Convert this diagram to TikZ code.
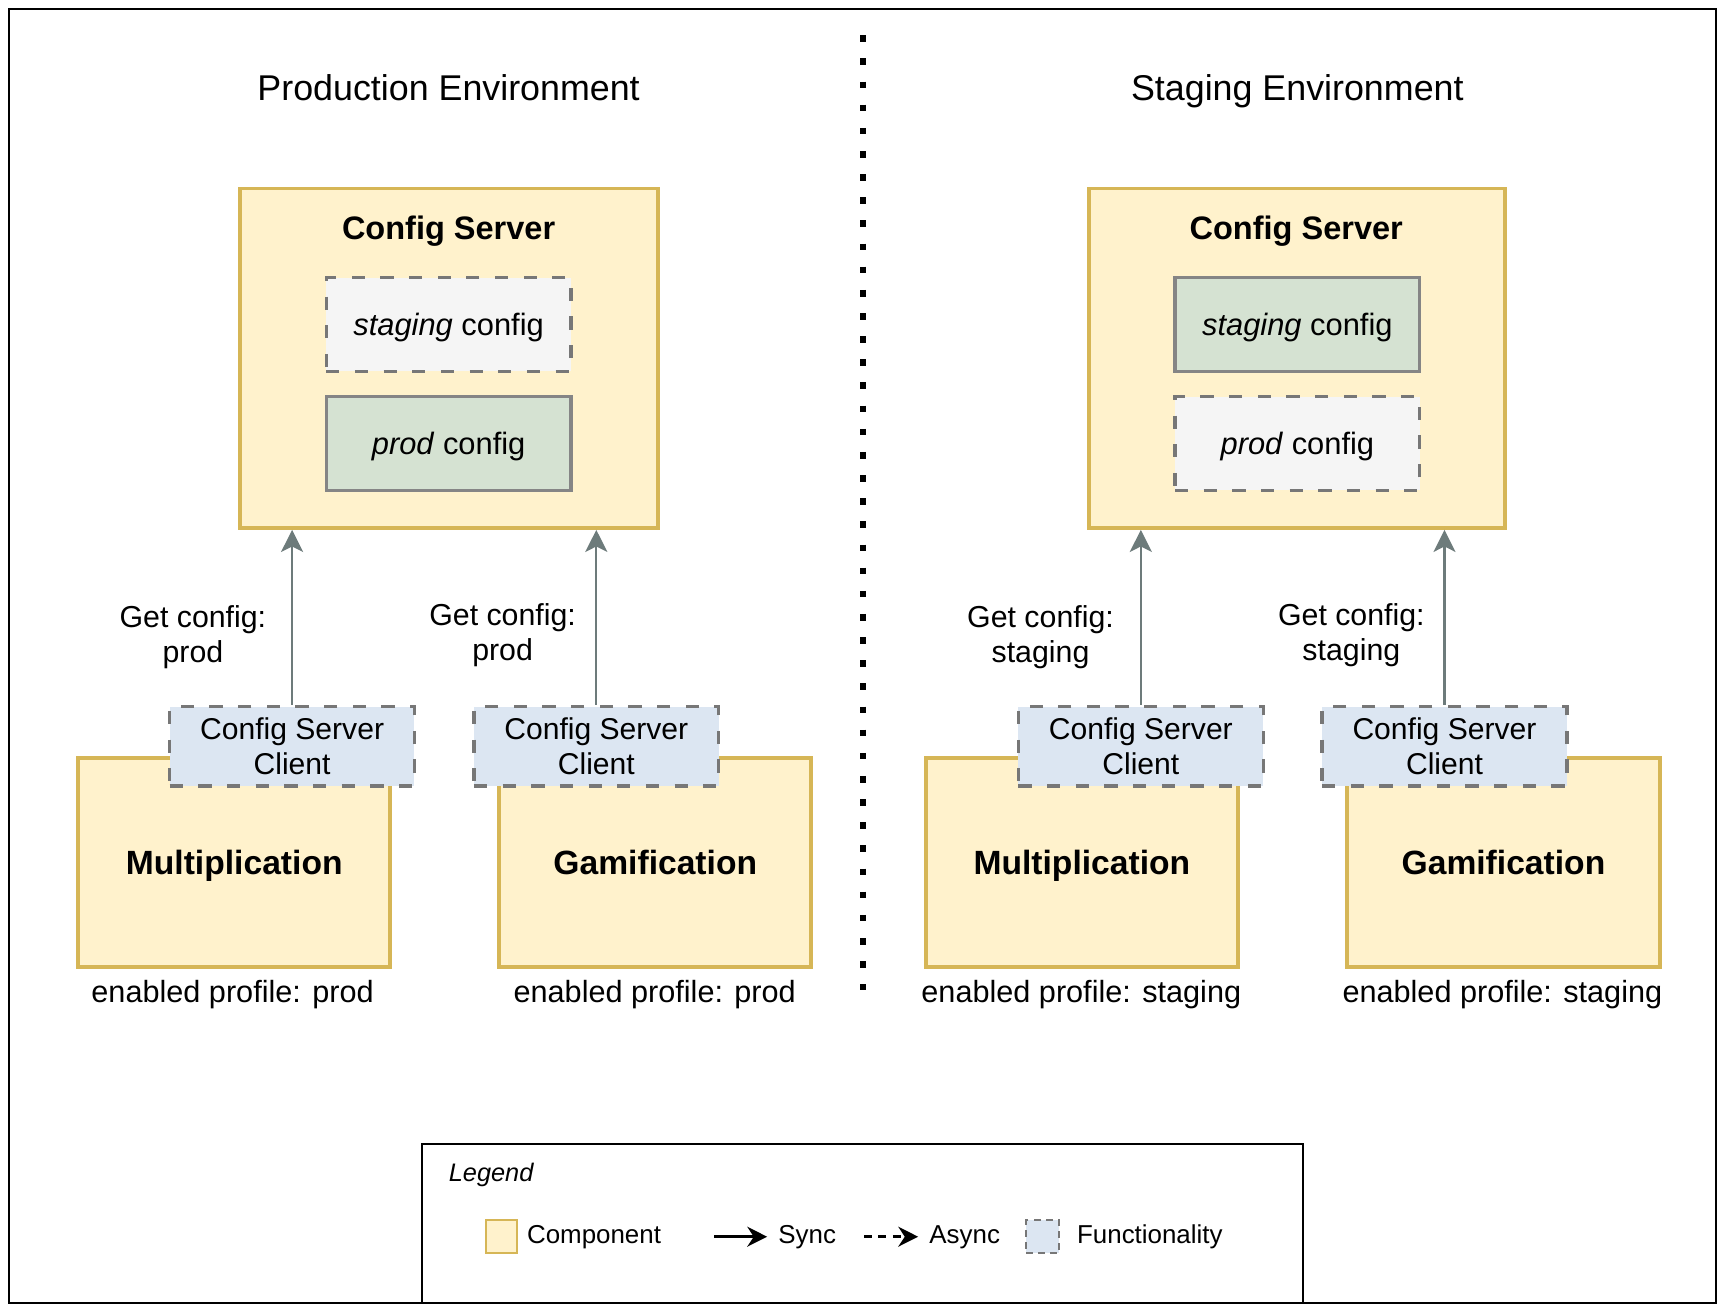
\documentclass[tikz,border=0pt]{standalone}
\usepackage{fontspec}
\setmainfont{Liberation Sans}
\usetikzlibrary{arrows.meta}
\definecolor{compfill}{HTML}{FFF2CC}
\definecolor{compborder}{HTML}{D6B656}
\definecolor{funcfill}{HTML}{DCE6F2}
\definecolor{dashgray}{HTML}{777777}
\definecolor{offfill}{HTML}{F5F5F5}
\definecolor{onfill}{HTML}{D5E2D2}
\definecolor{onborder}{HTML}{858585}
\definecolor{arrowgray}{HTML}{6D7B7B}
\tikzset{
  comp/.style={draw=compborder, fill=compfill, line width=3.5pt, inner sep=0pt, align=center},
  cfgoff/.style={draw=dashgray, fill=offfill, line width=3pt, dash pattern=on 12pt off 14pt, inner sep=0pt, minimum width=222pt, minimum height=85pt},
  cfgon/.style={draw=onborder, fill=onfill, line width=3pt, inner sep=0pt, minimum width=222pt, minimum height=85pt},
  client/.style={draw=dashgray, fill=funcfill, line width=3pt, dash pattern=on 12pt off 14pt, inner sep=0pt, minimum width=222pt, minimum height=72pt, align=center, font=\fontsize{27.3}{32}\selectfont},
  envtitle/.style={inner sep=0pt, text height=23.4pt, text depth=0.8pt, font=\fontsize{32.5}{38}\selectfont},
  cstitle/.style={inner sep=0pt, text height=21.2pt, text depth=0.2pt, font=\fontsize{29.5}{34}\selectfont\bfseries},
  cfgtext/.style={inner sep=0pt, text height=20.2pt, text depth=0pt, font=\fontsize{28}{33}\selectfont},
  compname/.style={text height=22pt, text depth=0.4pt, font=\fontsize{30.5}{36}\selectfont\bfseries},
  getlbl/.style={align=center, font=\fontsize{27.5}{32}\selectfont},
  profile/.style={inner sep=0pt, text height=20pt, text depth=3.8pt, font=\fontsize{27.8}{33}\selectfont},
  req/.style={draw=arrowgray, line width=2pt, -{Stealth[length=20pt,width=20pt,inset=5pt]}},
  legtext/.style={anchor=west, inner sep=0pt, text height=17pt, text depth=5pt, font=\fontsize{23.5}{28}\selectfont},
  legarrow/.style={draw=black, line width=2.5pt, -{Stealth[length=18pt,width=18pt]}}
}
\begin{document}
\begin{tikzpicture}[x=1pt,y=-1pt]
\useasboundingbox (0,0) rectangle (1565,1190);
% outer frame
\node[draw=black, line width=2pt, minimum width=1549pt, minimum height=1174pt, inner sep=0pt] (frame) at (782.5,595) {};
% divider
\coordinate (divtop) at (783,32);
\coordinate (divbot) at (783,898);
\draw[line width=5pt, dash pattern=on 6pt off 15pt] (divtop) -- (divbot);
% titles
\node[envtitle] (envP) at (407,80) {Production Environment};
\node[envtitle] (envS) at (1177,80) {Staging Environment};

% ---------- Production ----------
\node[comp, minimum width=379pt, minimum height=308pt] (csL) at (407.5,325) {};
\node[cstitle] (csLt) at (407,207) {Config Server};
\node[cfgoff] (stgL) at (407,294.5) {};
\node[cfgtext] at (stgL.center) {\textit{staging} config};
\node[cfgon] (prdL) at (407,402.5) {};
\node[cfgtext] at (prdL.center) {\textit{prod} config};

\node[comp, minimum width=283pt, minimum height=189pt, compname] (multL) at (212.5,782.5) {Multiplication};
\node[comp, minimum width=283pt, minimum height=189pt, compname] (gamL) at (594.5,782.5) {Gamification};
\node[client] (cliL1) at (265,677) {Config Server\\Client};
\node[client] (cliL2) at (541,677) {Config Server\\Client};
\draw[req] (cliL1.north) -- (cliL1.north |- csL.south);
\draw[req] (cliL2.north) -- (cliL2.north |- csL.south);
\node[getlbl] (gL1) at (175,578) {Get config:\\prod};
\node[getlbl] (gL2) at (456,576) {Get config:\\prod};
\node[profile] (pL1) at (211,901) {enabled profile: prod};
\node[profile] (pL2) at (594,901) {enabled profile: prod};

% ---------- Staging ----------
\node[comp, minimum width=377pt, minimum height=308pt] (csR) at (1176.5,325) {};
\node[cstitle] (csRt) at (1176,207) {Config Server};
\node[cfgon] (stgR) at (1177,294.5) {};
\node[cfgtext] at (stgR.center) {\textit{staging} config};
\node[cfgoff] (prdR) at (1177,402.5) {};
\node[cfgtext] at (prdR.center) {\textit{prod} config};

\node[comp, minimum width=283pt, minimum height=189pt, compname] (multR) at (981.5,782.5) {Multiplication};
\node[comp, minimum width=284pt, minimum height=189pt, compname] (gamR) at (1364,782.5) {Gamification};
\node[client] (cliR1) at (1035,677) {Config Server\\Client};
\node[client] (cliR2) at (1310.5,677) {Config Server\\Client};
\draw[req] (cliR1.north) -- (cliR1.north |- csR.south);
\draw[req] (cliR2.north) -- (cliR2.north |- csR.south);
\node[getlbl] (gR1) at (944,578) {Get config:\\staging};
\node[getlbl] (gR2) at (1226,576) {Get config:\\staging};
\node[profile] (pR1) at (981,901) {enabled profile: staging};
\node[profile] (pR2) at (1363,901) {enabled profile: staging};

% ---------- Legend ----------
\node[draw=black, line width=2pt, fill=white, minimum width=799pt, minimum height=144pt, inner sep=0pt] (legend) at (782.5,1110) {};
\node[anchor=west, inner sep=0pt, font=\fontsize{23}{28}\selectfont\itshape] (legtitle) at (407,1066) {Legend};
\node[draw=compborder, fill=compfill, line width=2pt, minimum width=28pt, minimum height=30pt, inner sep=0pt] (legcomp) at (455,1122) {};
\node[legtext] (legcompt) at (478,1122) {Component};
\coordinate (syncA) at (648,1122);
\coordinate (syncB) at (696,1122);
\draw[legarrow] (syncA) -- (syncB);
\node[legtext] (legsync) at (706,1122) {Sync};
\coordinate (asyncA) at (784,1122);
\coordinate (asyncB) at (833,1122);
\draw[legarrow, dash pattern=on 7pt off 6pt] (asyncA) -- (asyncB);
\node[legtext] (legasync) at (843,1122) {Async};
\node[draw=dashgray, fill=funcfill, line width=2pt, dash pattern=on 6pt off 5pt, minimum width=30pt, minimum height=30pt, inner sep=0pt] (legfunc) at (946,1122) {};
\node[legtext] (legfunct) at (977,1122) {Functionality};
\end{tikzpicture}
\end{document}
